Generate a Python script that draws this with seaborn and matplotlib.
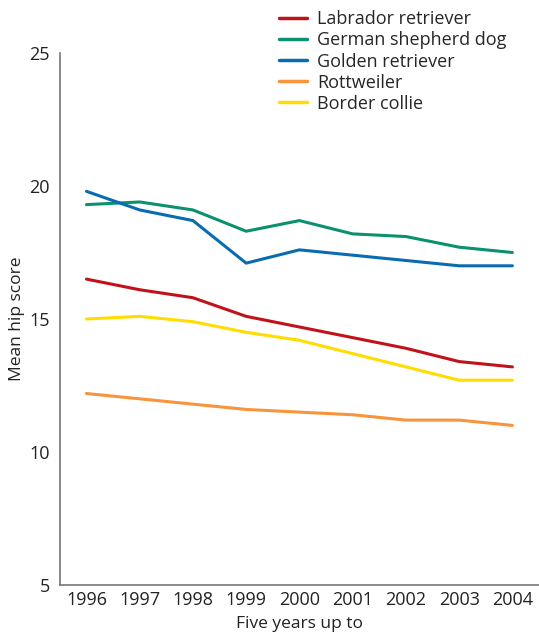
import pandas as pd
import seaborn as sns
import matplotlib.pyplot as plt

# Data
years = ['1996', '1997', '1998', '1999', '2000', '2001', '2002', '2003', '2004']
labrador = [16.5, 16.1, 15.8, 15.1, 14.7, 14.3, 13.9, 13.4, 13.2]
german_shepherd = [19.3, 19.4, 19.1, 18.3, 18.7, 18.2, 18.1, 17.7, 17.5]
golden = [19.8, 19.1, 18.7, 17.1, 17.6, 17.4, 17.2, 17.0, 17.0]
rottweiler = [12.2, 12.0, 11.8, 11.6, 11.5, 11.4, 11.2, 11.2, 11.0]
border_collie = [15.0, 15.1, 14.9, 14.5, 14.2, 13.7, 13.2, 12.7, 12.7]

breeds = ['Labrador retriever', 'German shepherd dog', 'Golden retriever',
          'Rottweiler', 'Border collie']
colors = ['#c1121c', '#0b9070', '#0a6cb0', '#f7943c', '#ffdd00']

series = [labrador, german_shepherd, golden, rottweiler, border_collie]
rows = []
for breed, vals in zip(breeds, series):
    for i, v in enumerate(vals):
        rows.append({'idx': i, 'score': v, 'breed': breed})
df = pd.DataFrame(rows)

sns.set_style('white')
plt.rcParams['font.family'] = ['Open Sans', 'DejaVu Sans']

fig = plt.figure(figsize=(5.39, 6.37), dpi=100)
ax = fig.add_axes([0.111, 0.0816, 0.889, 0.8352])

sns.lineplot(data=df, x='idx', y='score', hue='breed', hue_order=breeds,
             palette=colors, linewidth=2.2, ax=ax, legend=False)

ax.set_xlim(-0.5, 8.5)
ax.set_ylim(5, 25)
ax.set_yticks([5, 10, 15, 20, 25])
ax.set_yticklabels(['5', '10', '15', '20', '25'], fontsize=13, color='#222222')

# boundary ticks between categories, labels at centers
ax.set_xticks([i + 0.5 for i in range(-1, 8)])
ax.set_xticklabels([])
ax.set_xticks(range(len(years)), minor=True)
ax.set_xticklabels(years, minor=True, fontsize=13, color='#222222')
ax.tick_params(axis='x', which='major', length=6, width=1, color='#555555', direction='out')
ax.tick_params(axis='x', which='minor', length=0, pad=4)
ax.tick_params(axis='y', length=5, width=1, color='#555555', direction='out', pad=2)

for s in ['top', 'right']:
    ax.spines[s].set_visible(False)
for s in ['left', 'bottom']:
    ax.spines[s].set_color('#777777')
    ax.spines[s].set_linewidth(1.2)

ax.set_xlabel('Five years up to', fontsize=12.5, color='#222222', labelpad=5)
ax.set_ylabel('Mean hip score', fontsize=12.5, color='#222222', labelpad=3)

handles = [plt.Line2D([], [], color=c, linewidth=2.5) for c in colors]
fig.legend(handles, breeds, loc='upper left', bbox_to_anchor=(0.505, 0.995),
           frameon=False, fontsize=13, handlelength=1.55, handletextpad=0.55,
           labelspacing=0.17, borderaxespad=0)

fig.savefig('out.png', dpi=100)
